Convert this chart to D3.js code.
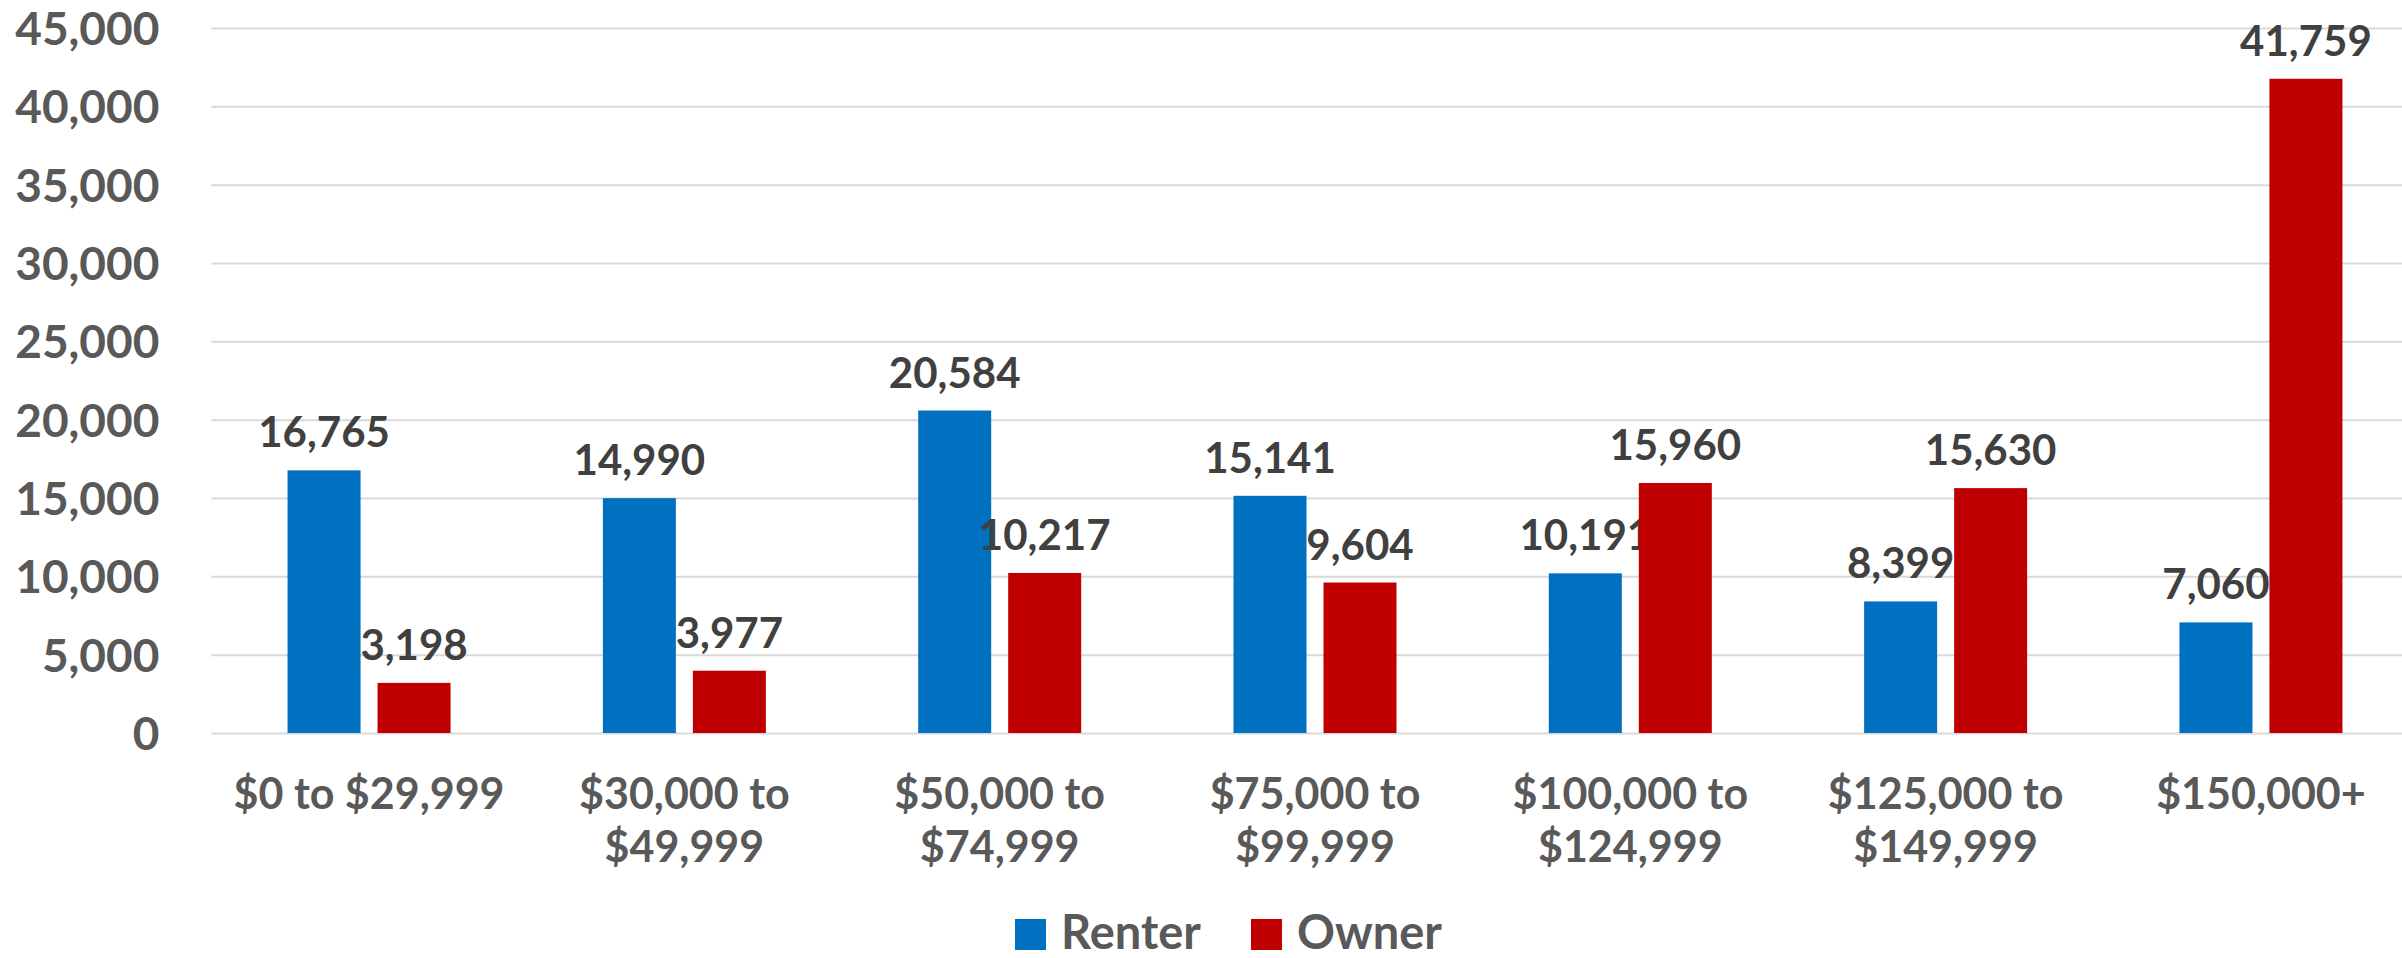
<html>
<head>
<meta charset="utf-8">
<style>
  body { margin: 0; background: #fff; }
  text { font-family: Lato, "Open Sans", sans-serif; font-weight: bold; }
</style>
</head>
<body>
<svg width="2402" height="958"></svg>
<script src="https://cdn.jsdelivr.net/npm/d3@7/dist/d3.min.js"></script>
<script>
const categories = ["$0 to $29,999", "$30,000 to $49,999", "$50,000 to $74,999", "$75,000 to $99,999",
  "$100,000 to $124,999", "$125,000 to $149,999", "$150,000+"]
const series = ["Renter", "Owner"]
const renter = [16765, 14990, 20584, 15141, 10191, 8399, 7060]
const owner = [3198, 3977, 10217, 9604, 15960, 15630, 41759]
const yTicks = [0, 5000, 10000, 15000, 20000, 25000, 30000, 35000, 40000, 45000]
const colors = ["#0070C0", "#C00000"]

const svg = d3.select("svg")
const W = 2402

// plot area (the right edge runs a little past the picture, like the original)
const left = 211.4, right = 2418.6, y0 = 733, yTop = 28

const x0 = d3.scaleBand().domain(categories).range([left, right]).padding(0)
const groupW = 163
const x1 = d3.scaleBand().domain(series).range([0, groupW]).paddingInner(17 / 90).paddingOuter(0)
const y = d3.scaleLinear().domain([0, 45000]).range([y0, yTop])

// gridlines + y labels
const yAxis = svg.append("g").attr("transform", `translate(${left},0)`)
  .call(d3.axisLeft(y).tickValues(yTicks).tickFormat(d3.format(",")).tickSizeInner(-(W - left)).tickSizeOuter(0).tickPadding(52))
yAxis.select(".domain").remove()
yAxis.selectAll(".tick line").attr("stroke", "#D9D9D9").attr("stroke-width", 2)
yAxis.selectAll(".tick text").attr("fill", "#595959").attr("font-size", 46).attr("dy", "0.36em")
  .style("font-family", "Lato, sans-serif").style("font-weight", "bold")

// bars
const rows = categories.map((c, i) => ({cat: c, vals: [renter[i], owner[i]]}))
const groups = svg.append("g").selectAll("g").data(rows).join("g")
  .attr("transform", d => `translate(${x0(d.cat) + (x0.bandwidth() - groupW) / 2},0)`)

const cells = groups.selectAll("g").data(d => d.vals.map((v, j) => ({s: series[j], v: v, j: j}))).join("g")
cells.append("rect")
  .attr("x", d => x1(d.s)).attr("width", x1.bandwidth())
  .attr("y", d => y(d.v)).attr("height", d => y0 - y(d.v))
  .attr("fill", d => colors[d.j])
cells.append("text")
  .attr("x", d => x1(d.s) + x1.bandwidth() / 2).attr("y", d => y(d.v) - 23)
  .attr("text-anchor", "middle").attr("font-size", 42).attr("fill", "#404040")
  .text(d => d3.format(",")(d.v))

// category labels, wrapped to the band like Excel does
const xl = svg.append("g")
categories.forEach(c => {
  const cx = x0(c) + x0.bandwidth() / 2
  const t = xl.append("text").attr("x", cx).attr("y", y0 + 76)
    .attr("text-anchor", "middle").attr("font-size", 43).attr("fill", "#595959")
  const words = c.split(" ")
  let line = [], ts = t.append("tspan").attr("x", cx)
  words.forEach(w => {
    line.push(w)
    ts.text(line.join(" "))
    if (ts.node().getComputedTextLength() > 295 && line.length > 1) {
      line.pop()
      ts.text(line.join(" "))
      line = [w]
      ts = t.append("tspan").attr("x", cx).attr("dy", 53).text(w)
    }
  })
})

// legend
const legend = svg.append("g")
const legendX = [1015, 1251]
series.forEach((s, i) => {
  legend.append("rect").attr("x", legendX[i]).attr("y", 919).attr("width", 31).attr("height", 31).attr("fill", colors[i])
  legend.append("text").attr("x", legendX[i] + 46).attr("y", 949).attr("font-size", 47).attr("fill", "#595959").text(s)
})
</script>
</body>
</html>
